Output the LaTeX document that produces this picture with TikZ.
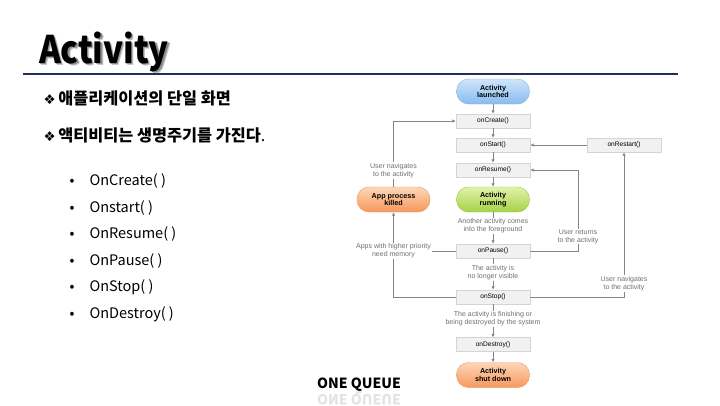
\documentclass[tikz,border=0pt]{standalone}
\usepackage{fontspec}
\setmainfont{Liberation Sans}
\newfontfamily\kr{Noto Sans CJK KR}
\newfontfamily\sym{DejaVu Sans}
\usetikzlibrary{arrows.meta}

\newcommand{\markglyph}{{\sym\mdseries\fontsize{13.5}{13.5}\selectfont ❖}}
% word drawn over two offset grey copies of itself, giving a soft shadow
\newcommand{\shadowword}[1]{%
  \makebox[0pt][l]{\hspace{2.6pt}\raisebox{-2.4pt}{\textcolor{black!22}{#1}}}%
  \makebox[0pt][l]{\hspace{1.5pt}\raisebox{-1.4pt}{\textcolor{black!45}{#1}}}%
  #1}

\definecolor{rulenavy}{HTML}{1F2F5A}
\definecolor{lnk}{HTML}{858585}
\definecolor{boxfill}{HTML}{F1F1F1}
\definecolor{boxline}{HTML}{D4D4D4}
\definecolor{bluetop}{HTML}{CFE5FB}
\definecolor{bluebot}{HTML}{86BCF0}
\definecolor{blueline}{HTML}{8FB3DA}
\definecolor{greentop}{HTML}{E2F2A8}
\definecolor{greenbot}{HTML}{A6D148}
\definecolor{greenline}{HTML}{A0C25A}
\definecolor{orangetop}{HTML}{FDD6B8}
\definecolor{orangebot}{HTML}{F7985A}
\definecolor{orangeline}{HTML}{E39A66}
\definecolor{notegray}{HTML}{707070}

\tikzset{
  call/.style={draw=boxline, fill=boxfill, minimum width=74pt, minimum height=14pt,
    inner sep=0pt, font=\fontsize{6.6}{7.5}\selectfont},
  state/.style={rounded corners=12pt, minimum width=73pt, minimum height=25pt,
    inner sep=0pt, align=center, font=\fontsize{7.2}{7.6}\selectfont\bfseries},
  blue state/.style={state, draw=blueline, top color=bluetop, bottom color=bluebot},
  green state/.style={state, draw=greenline, top color=greentop, bottom color=greenbot},
  orange state/.style={state, draw=orangeline, top color=orangetop, bottom color=orangebot},
  note/.style={fill=white, inner sep=1pt, align=center, text=notegray,
    font=\fontsize{7}{7.7}\selectfont},
  link/.style={draw=lnk, line width=0.7pt},
  flow/.style={link, -{Latex[length=3.5pt,width=3.5pt]}},
  bulletline/.style={anchor=base west, font=\kr\fontsize{14.5}{15}\selectfont},
  headline/.style={anchor=base west, font=\kr\bfseries\fontsize{16.3}{17}\selectfont},
  titletext/.style={anchor=base west, transform shape, font=\kr\bfseries\fontsize{38}{38}\selectfont},
}

\begin{document}
\begin{tikzpicture}[x=1pt, y={(0pt,-1pt)}]
\useasboundingbox (0,0) rectangle (720,405);
\clip (0,0) rectangle (720,405);

% title with soft drop shadow, then the rule below it
\begin{scope}[shift={(36,63)}, xscale=0.87]
  \node[titletext] (title) at (0,0) {\shadowword{Activity}};
\end{scope}
\draw[rulenavy, line width=2pt] (23,73.5) -- (678,73.5);

% headline bullets
\node[headline] (h1) at (40,104) {\markglyph\,애플리케이션의 단일 화면};
\node[headline] (h2) at (40,141) {\markglyph\,액티비티는 생명주기를 가진다{\mdseries .}};

% callback list
\foreach \txt/\yy [count=\i] in {OnCreate( )/185, Onstart( )/212, OnResume( )/238.5, OnPause( )/265, OnStop( )/291.5, OnDestroy( )/318} {
  \node[bulletline] (dot\i) at (66,\yy) {•};
  \node[bulletline] (item\i) at (86,\yy) {\txt};
}

% footer text with faded mirror image
\node[anchor=base, font=\kr\bfseries\fontsize{14}{15}\selectfont] (queue) at (359,388) {ONE QUEUE};
\begin{scope}[shift={(359,394)}, yscale=-1]
  \node[anchor=base, transform shape, text=black!11, font=\kr\bfseries\fontsize{14}{15}\selectfont] (queuemirror) at (0,0) {ONE QUEUE};
\end{scope}

% lifecycle states and callbacks
\node[blue state] (launched) at (493,91.5) {Activity\\launched};
\node[call] (onCreate) at (493,121) {onCreate()};
\node[call] (onStart) at (493,145) {onStart()};
\node[call] (onResume) at (493,170) {onResume()};
\node[green state] (running) at (493,199.5) {Activity\\running};
\node[orange state] (killed) at (393.5,199.5) {App process\\killed};
\node[call] (onPause) at (493,251) {onPause()};
\node[call] (onStop) at (493,297) {onStop()};
\node[call] (onDestroy) at (493,344.5) {onDestroy()};
\node[orange state] (shutdown) at (493,375) {Activity\\shut down};
\node[call] (onRestart) at (624,145) {onRestart()};

% main downward flow
\draw[flow] (launched) -- (onCreate);
\draw[flow] (onCreate) -- (onStart);
\draw[flow] (onStart) -- (onResume);
\draw[flow] (onResume) -- (running);
\node[note] (fg) at (493,226) {Another activity comes\\into the foreground};
\draw[link] (running) -- (fg);
\draw[flow] (fg) -- (onPause);
\node[note] (hidden) at (493,272.5) {The activity is\\no longer visible};
\draw[link] (onPause) -- (hidden);
\draw[flow] (hidden) -- (onStop);
\node[note] (finish) at (493,319) {The activity is finishing or\\being destroyed by the system};
\draw[link] (onStop) -- (finish);
\draw[flow] (finish) -- (onDestroy);
\draw[flow] (onDestroy) -- (shutdown);

% process killed and relaunched
\coordinate (killcorner) at (393.5,297);
\draw[flow] (onStop.west) -- (killcorner) -- (killed.south);
\node[note] (memory) at (393.5,251) {Apps with higher priority\\need memory};
\draw[link] (onPause.west) -- (memory.east);
\node[note] (nav1) at (393.5,170.5) {User navigates\\to the activity};
\draw[link] (killed.north) -- (nav1.south);
\coordinate (createcorner) at (393.5,121);
\draw[flow] (nav1.north) -- (createcorner) -- (onCreate.west);

% returning to the activity
\coordinate (pausecorner) at (578,251);
\coordinate (resumecorner) at (578,170);
\draw[flow] (onPause.east) -- (pausecorner) -- (resumecorner) -- (onResume.east);
\node[note] (ret) at (578,236.5) {User returns\\to the activity};

\coordinate (stopcorner) at (624,297);
\draw[flow] (onStop.east) -- (stopcorner) -- (onRestart.south);
\node[note] (nav2) at (624,283.5) {User navigates\\to the activity};
\draw[flow] (onRestart.west) -- (onStart.east);
\end{tikzpicture}
\end{document}
